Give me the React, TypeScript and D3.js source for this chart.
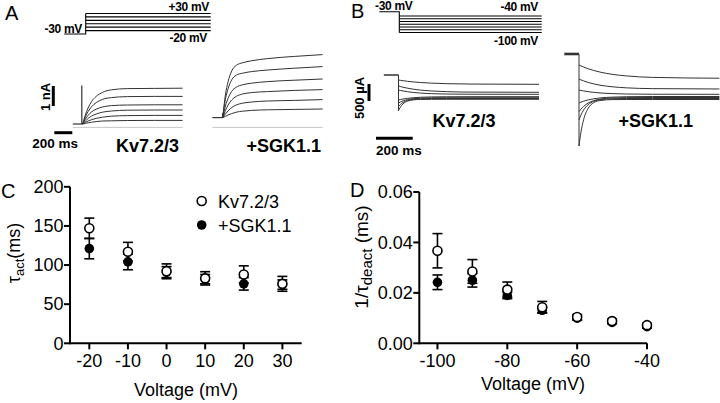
import React from "react";
import * as d3 from "d3";

// ---------- Panel C data ----------
const voltC = [-20, -10, 0, 10, 20, 30];
const kvTau = [147, 117, 92, 83, 88, 76];
const kvTauSem = [13, 12, 9.5, 8.5, 11, 9.5];
const sgkTau = [121, 104, 91, 82, 76, 75];
const sgkTauSem = [13, 10, 7, 6, 8, 6];
const ticksCX = [-20, -10, 0, 10, 20, 30];
const ticksCY = [0, 50, 100, 150, 200];

// ---------- Panel D data ----------
const voltD = [-100, -90, -80, -70, -60, -50, -40];
const kvRate = [0.0367, 0.0285, 0.0213, 0.0143, 0.0104, 0.0088, 0.0072];
const kvRateSem = [0.0068, 0.0047, 0.003, 0.0023, 0.001, 0.0008, 0.0007];
const sgkRate = [0.0242, 0.025, 0.019, 0.0131, 0.01, 0.0083, 0.0066];
const sgkRateSem = [0.0029, 0.0027, 0.0013, 0.001, 0.0008, 0.0006, 0.0006];
const ticksDX = [-100, -80, -60, -40];
const ticksDY = [0, 0.02, 0.04, 0.06];

// ---------- Panel A data (activation) ----------
const actSteps = [-20, -10, 0, 10, 20, 30];
const holdingV = -30;
const tA = [0, 30, 60, 100, 150, 220, 320, 500, 800, 1110];
const holdingA = [0.17, 0.49]; // nA, Kv7.2/3 and +SGK1.1
const spikeA = [2.1, 0.72];
const kvAct = [
  [0.17, 0.2, 0.23, 0.26, 0.29, 0.32, 0.33, 0.345, 0.35, 0.35],
  [0.17, 0.25, 0.32, 0.39, 0.45, 0.51, 0.56, 0.59, 0.6, 0.6],
  [0.17, 0.32, 0.45, 0.57, 0.67, 0.76, 0.82, 0.86, 0.87, 0.87],
  [0.17, 0.42, 0.6, 0.78, 0.91, 1.02, 1.09, 1.12, 1.13, 1.13],
  [0.17, 0.53, 0.79, 1.04, 1.24, 1.4, 1.49, 1.54, 1.55, 1.55],
  [0.17, 0.63, 0.97, 1.3, 1.55, 1.75, 1.88, 1.94, 1.95, 1.96],
];
const sgkAct = [
  [0.49, 0.55, 0.62, 0.69, 0.76, 0.81, 0.85, 0.88, 0.9, 0.92],
  [0.49, 0.67, 0.83, 0.99, 1.12, 1.21, 1.27, 1.32, 1.35, 1.39],
  [0.49, 0.84, 1.12, 1.37, 1.55, 1.67, 1.74, 1.79, 1.85, 1.89],
  [0.49, 1.07, 1.46, 1.8, 2.01, 2.13, 2.21, 2.29, 2.36, 2.42],
  [0.49, 1.41, 1.94, 2.38, 2.61, 2.71, 2.79, 2.87, 2.96, 3.04],
  [0.49, 1.62, 2.29, 2.82, 3.1, 3.23, 3.33, 3.44, 3.55, 3.64],
];

// ---------- Panel B data (deactivation) ----------
const deactSteps = [-40, -50, -60, -70, -80, -90, -100];
const tB = [0, 10, 25, 50, 80, 120, 180, 260, 400, 765];
const holdingB = [706, 1324];
const kvDeact = [
  [559, 550, 538, 520, 503, 485, 466, 451, 439, 432],
  [382, 367, 346, 317, 289, 262, 236, 216, 203, 197],
  [265, 252, 236, 213, 193, 174, 157, 146, 140, 138],
  [-29, -16, 0, 20, 37, 51, 61, 66, 68, 68],
  [-118, -88, -54, -16, 10, 26, 35, 38, 38, 38],
  [-221, -162, -101, -42, -9, 7, 14, 15, 15, 15],
  [-344, -240, -142, -62, -26, -13, -9, -9, -9, -9],
];
const sgkDeact = [
  [1000, 975, 940, 889, 839, 785, 727, 678, 636, 611],
  [588, 564, 533, 488, 445, 402, 360, 328, 305, 295],
  [265, 253, 237, 215, 195, 176, 159, 147, 140, 138],
  [-118, -95, -65, -26, 6, 34, 55, 67, 73, 74],
  [-374, -302, -217, -119, -48, 1, 30, 41, 44, 44],
  [-618, -478, -324, -167, -70, -17, 8, 15, 15, 15],
  [-1382, -995, -610, -273, -109, -40, -18, -15, -15, -15],
];

const FONT = "'Liberation Sans', Arial, Helvetica, sans-serif";
const TRACE = "#333";

function Traces({ t, data, xs, ys }: any) {
  const line = d3
    .line<number>()
    .x((_, i) => xs(t[i]))
    .y((d) => ys(d))
    .curve(d3.curveMonotoneX);
  return (
    <g fill="none" stroke={TRACE} strokeWidth={1}>
      {data.map((tr: number[], i: number) => (
        <path key={i} d={line(tr) || ""} />
      ))}
    </g>
  );
}

function ScatterPanel({ xs, ys, xv, a, aErr, b, bErr, xTicks, yTicks, yFmt }: any) {
  const [x0, x1] = xs.range();
  const [y0, y1] = ys.range();
  const cap = 5;
  const err = (vals: number[], errs: number[], key: string) =>
    xv.map((v: number, i: number) => {
      const cx = xs(v);
      const top = ys(vals[i] + errs[i]);
      const bot = ys(vals[i] - errs[i]);
      return (
        <g key={key + i} stroke="#000" strokeWidth={1.6}>
          <line x1={cx} x2={cx} y1={top} y2={bot} />
          <line x1={cx - cap} x2={cx + cap} y1={top} y2={top} />
          <line x1={cx - cap} x2={cx + cap} y1={bot} y2={bot} />
        </g>
      );
    });
  return (
    <g fontFamily={FONT}>
      <line x1={x0} x2={x1} y1={y0} y2={y0} stroke="#000" strokeWidth={2} />
      <line x1={x0} x2={x0} y1={y0 + 1} y2={y1} stroke="#000" strokeWidth={2} />
      {xTicks.map((v: number) => (
        <g key={"xt" + v}>
          <line x1={xs(v)} x2={xs(v)} y1={y0} y2={y0 + 6} stroke="#000" strokeWidth={2} />
          <text x={xs(v)} y={y0 + 24} textAnchor="middle" fontSize={18}>
            {v}
          </text>
        </g>
      ))}
      {yTicks.map((v: number) => (
        <g key={"yt" + v}>
          <line x1={x0 - 6} x2={x0} y1={ys(v)} y2={ys(v)} stroke="#000" strokeWidth={2} />
          <text x={x0 - 6.5} y={ys(v) + 6.3} textAnchor="end" fontSize={18}>
            {yFmt(v)}
          </text>
        </g>
      ))}
      {err(b, bErr, "be")}
      {xv.map((v: number, i: number) => (
        <circle key={"bm" + i} cx={xs(v)} cy={ys(b[i])} r={4.8} fill="#000" />
      ))}
      {err(a, aErr, "ae")}
      {xv.map((v: number, i: number) => (
        <circle key={"am" + i} cx={xs(v)} cy={ys(a[i])} r={4.5} fill="#fff" stroke="#000" strokeWidth={1.6} />
      ))}
    </g>
  );
}

export default function App() {
  // ----- Panel A scales -----
  const xProtoA = d3.scaleLinear().domain([0, 1450]).range([85.7, 210.7]);
  const vA = d3.scaleLinear().domain([-30, 30]).range([34, 13.5]);
  const xAL = d3.scaleLinear().domain([0, 1110]).range([82.7, 182.6]);
  const xAR = d3.scaleLinear().domain([0, 1110]).range([222.7, 322.6]);
  const yA = d3.scaleLinear().domain([0, 1]).range([127.4, 107.4]);

  // ----- Panel B scales -----
  const xProtoB = d3.scaleLinear().domain([0, 776]).range([399.3, 541.7]);
  const vB = d3.scaleLinear().domain([-100, -40, -30]).range([32.5, 16, 11.7]);
  const xBL = d3.scaleLinear().domain([0, 765]).range([398.5, 539]);
  const xBR = d3.scaleLinear().domain([0, 765]).range([579, 719.4]);
  const yB = d3.scaleLinear().domain([0, 500]).range([99, 82]);

  // ----- Panel C/D scales -----
  const xC = d3.scaleLinear().domain([-25, 35]).range([70, 301.7]);
  const yC = d3.scaleLinear().domain([0, 200]).range([343.3, 186.8]);
  const xD = d3.scaleLinear().domain([-105.2, -40]).range([419.3, 647]);
  const yD = d3.scaleLinear().domain([0, 0.06]).range([343.3, 192]);

  const barA = xAL(200) - xAL(0);
  const barB = xBL(200) - xBL(0);
  const nA = yA(0) - yA(1);
  const uA500 = yB(0) - yB(500);

  const minBL = d3.min(kvDeact.map((d) => d[0])) as number;
  const minBR = d3.min(sgkDeact.map((d) => d[0])) as number;

  return (
    <svg
      width={720}
      height={403}
      style={{ position: "absolute", left: 0, top: 0, background: "#fff" }}
      fontFamily={FONT}
    >
      <rect x={0} y={0} width={720} height={403} fill="#fff" />

      {/* Panel letters */}
      <text x={5} y={20} fontSize={20}>A</text>
      <text x={351} y={18} fontSize={20}>B</text>
      <text x={1} y={198} fontSize={20}>C</text>
      <text x={350} y={197} fontSize={20}>D</text>

      {/* ---------- Panel A protocol ---------- */}
      <g stroke="#000" strokeWidth={1.1} fill="none">
        <path
          d={`M${xProtoA(-250)},${vA(holdingV)}H${xProtoA(0)}V${vA(d3.max(actSteps) as number)}`}
        />
        {actSteps.map((v) => (
          <line key={v} x1={xProtoA(0)} x2={xProtoA(1450)} y1={vA(v)} y2={vA(v)} />
        ))}
      </g>
      <g fontWeight="bold" fontSize={12} letterSpacing={-0.3}>
        <text x={209} y={10.5} textAnchor="end">+30 mV</text>
        <text x={207} y={41.5} textAnchor="end">-20 mV</text>
        <text x={82} y={32.5} textAnchor="end">-30 mV</text>
      </g>

      {/* ---------- Panel A traces ---------- */}
      <g stroke="#c8c8c8" strokeWidth={1}>
        <line x1={xAL(-110)} x2={xAL(1110)} y1={yA(0)} y2={yA(0)} />
        <line x1={xAR(-115)} x2={xAR(1110)} y1={yA(0)} y2={yA(0)} />
      </g>
      <g stroke={TRACE} strokeWidth={1.2} fill="none">
        <line x1={xAL(-110)} x2={xAL(0)} y1={yA(holdingA[0])} y2={yA(holdingA[0])} />
        <line x1={xAL(-10)} x2={xAL(-10)} y1={yA(holdingA[0])} y2={yA(spikeA[0])} />
        <line x1={xAR(-115)} x2={xAR(0)} y1={yA(holdingA[1])} y2={yA(holdingA[1])} />
        <line x1={xAR(0)} x2={xAR(0)} y1={yA(holdingA[1])} y2={yA(spikeA[1])} />
      </g>
      <Traces t={tA} data={kvAct} xs={xAL} ys={yA} />
      <Traces t={tA} data={sgkAct} xs={xAR} ys={yA} />
      {/* scale bars A */}
      <line x1={53.3} x2={53.3} y1={86} y2={86 + nA} stroke="#000" strokeWidth={3} />
      <text transform="translate(50,97) rotate(-90)" textAnchor="middle" fontWeight="bold" fontSize={13}>
        1 nA
      </text>
      <line x1={54.3} x2={54.3 + barA} y1={132.7} y2={132.7} stroke="#000" strokeWidth={3} />
      <text x={32.3} y={148} fontWeight="bold" fontSize={13.5}>200 ms</text>
      <text x={116} y={152} fontWeight="bold" fontSize={18}>Kv7.2/3</text>
      <text x={246.5} y={152} fontWeight="bold" fontSize={18}>+SGK1.1</text>

      {/* ---------- Panel B protocol ---------- */}
      <g stroke="#000" strokeWidth={1.1} fill="none">
        <path
          d={`M${xProtoB(-109)},${vB(holdingV)}H${xProtoB(0)}V${vB(d3.min(deactSteps) as number)}`}
        />
        {deactSteps.map((v) => (
          <line key={v} x1={xProtoB(0)} x2={xProtoB(776)} y1={vB(v)} y2={vB(v)} />
        ))}
      </g>
      <g fontWeight="bold" fontSize={12} letterSpacing={-0.3}>
        <text x={375} y={9.5} textAnchor="start">-30 mV</text>
        <text x={538} y={11} textAnchor="end">-40 mV</text>
        <text x={538} y={44.5} textAnchor="end">-100 mV</text>
      </g>

      {/* ---------- Panel B traces ---------- */}
      <g stroke={TRACE} fill="none">
        <line x1={xBL(-80)} x2={xBL(0)} y1={yB(holdingB[0])} y2={yB(holdingB[0])} strokeWidth={1.5} />
        <line x1={xBL(0)} x2={xBL(0)} y1={yB(holdingB[0])} y2={yB(minBL)} strokeWidth={1} />
        <line x1={xBR(-80)} x2={xBR(0)} y1={yB(holdingB[1])} y2={yB(holdingB[1])} strokeWidth={2.6} />
        <line x1={xBR(0)} x2={xBR(0)} y1={yB(holdingB[1])} y2={yB(minBR)} strokeWidth={1} />
      </g>
      <Traces t={tB} data={kvDeact} xs={xBL} ys={yB} />
      <Traces t={tB} data={sgkDeact} xs={xBR} ys={yB} />
      {/* scale bars B */}
      <line x1={369} x2={369} y1={84} y2={84 + uA500} stroke="#000" strokeWidth={3} />
      <text transform="translate(364,98) rotate(-90)" textAnchor="middle" fontWeight="bold" fontSize={13}>
        500 µA
      </text>
      <line x1={376} x2={376 + barB} y1={138.3} y2={138.3} stroke="#000" strokeWidth={3} />
      <text x={376} y={155} fontWeight="bold" fontSize={13.5}>200 ms</text>
      <text x={432.5} y={126.5} fontWeight="bold" fontSize={18}>Kv7.2/3</text>
      <text x={618.5} y={126.5} fontWeight="bold" fontSize={18}>+SGK1.1</text>

      {/* ---------- Panel C ---------- */}
      <ScatterPanel
        xs={xC}
        ys={yC}
        xv={voltC}
        a={kvTau}
        aErr={kvTauSem}
        b={sgkTau}
        bErr={sgkTauSem}
        xTicks={ticksCX}
        yTicks={ticksCY}
        yFmt={(v: number) => String(v)}
      />
      <text x={186} y={396} textAnchor="middle" fontSize={18}>Voltage (mV)</text>
      <text transform="translate(20,253) rotate(-90)" textAnchor="middle" fontSize={18}>
        τ<tspan fontSize={13} dy={4}>act</tspan>
        <tspan dy={-4}>(ms)</tspan>
      </text>
      {/* legend */}
      <circle cx={201.7} cy={201} r={4.5} fill="#fff" stroke="#000" strokeWidth={1.6} />
      <text x={218} y={207.5} fontSize={18}>Kv7.2/3</text>
      <circle cx={201.7} cy={225} r={4.8} fill="#000" />
      <text x={218} y={231.5} fontSize={18}>+SGK1.1</text>

      {/* ---------- Panel D ---------- */}
      <ScatterPanel
        xs={xD}
        ys={yD}
        xv={voltD}
        a={kvRate}
        aErr={kvRateSem}
        b={sgkRate}
        bErr={sgkRateSem}
        xTicks={ticksDX}
        yTicks={ticksDY}
        yFmt={(v: number) => d3.format(".2f")(v)}
      />
      <text x={533} y={390} textAnchor="middle" fontSize={18}>Voltage (mV)</text>
      <text transform="translate(368,257) rotate(-90)" textAnchor="middle" fontSize={19}>
        1/τ<tspan fontSize={15} dy={4}>deact</tspan>
        <tspan dy={-4}> (ms)</tspan>
      </text>
    </svg>
  );
}
